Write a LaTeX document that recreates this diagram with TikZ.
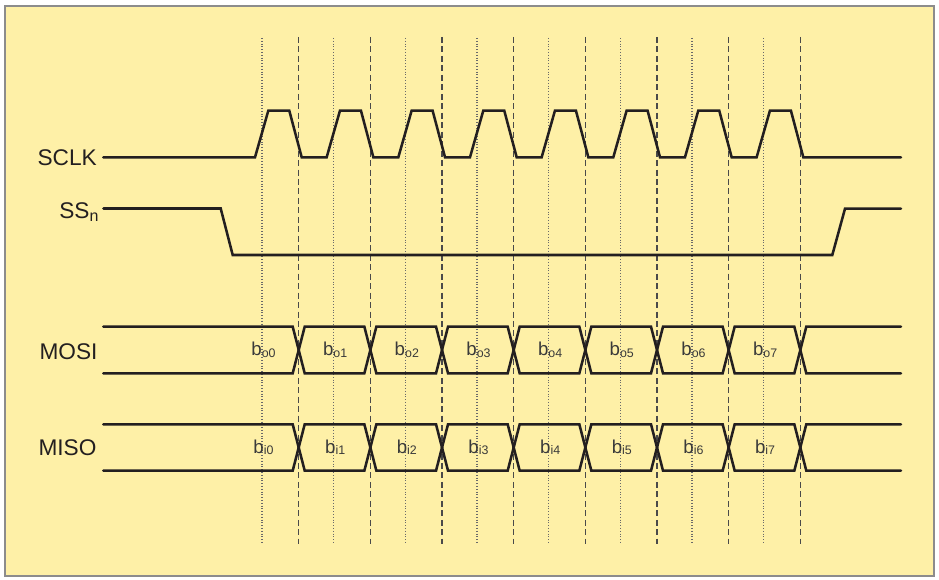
\documentclass[tikz,border=0pt]{standalone}
\usepackage{fontspec}
\setmainfont{Liberation Sans}
\definecolor{bg}{HTML}{FEF0A7}
\definecolor{bordc}{HTML}{8C8C8C}
\definecolor{sigc}{HTML}{231F20}
\definecolor{dashc}{HTML}{4A4A4A}
\definecolor{dotc}{HTML}{6A6A6A}
\definecolor{labc}{HTML}{3A3A3A}
\newcommand\bitlab[2]{{\fontsize{14}{16}\selectfont b}\raisebox{-1pt}{\fontsize{9.3}{10}\selectfont #1#2}}
\newcommand\mybus[4]{% #1 top, #2 bottom, #3 mid, #4 name prefix
  \draw[sig] (103.3,#1) -- (292.7,#1) -- (298.7,#3);
  \draw[sig] (103.3,#2) -- (292.7,#2) -- (298.7,#3);
  \foreach \k in {1,...,7}{
    \pgfmathsetmacro\xa{298.7+71.66*(\k-1)}
    \pgfmathsetmacro\xb{298.7+71.66*\k}
    \draw[sig] (\xa,#3) -- ({\xa+6},#1) -- ({\xb-6},#1) -- (\xb,#3);
    \draw[sig] (\xa,#3) -- ({\xa+6},#2) -- ({\xb-6},#2) -- (\xb,#3);
  }
  \draw[sig] (800.3,#3) -- (806.3,#1) -- (901,#1);
  \draw[sig] (800.3,#3) -- (806.3,#2) -- (901,#2);
}
\begin{document}
\begin{tikzpicture}[x=0.75pt,y=-0.75pt,
  sig/.style={line width=1.9pt, draw=sigc, line join=miter, line cap=round},
  dashline/.style={line width=1.1pt, draw=dashc, dash pattern=on 4.5pt off 2.6pt},
  dotline/.style={line width=1pt, draw=dotc, dash pattern=on 0.8pt off 1.3pt},
  siglab/.style={inner sep=0pt, anchor=base east, text=sigc, font=\fontsize{17}{20}\selectfont},
  bitnode/.style={inner sep=0pt, anchor=base, text=labc}]
\useasboundingbox (0,0) rectangle (939,580);
\fill[white] (0,0) rectangle (939,580);
\draw[fill=bg, draw=bordc, line width=1.1pt] (5,6) rectangle (934,576);
% grid lines
\foreach \k in {0,...,7}{
  \pgfmathsetmacro\xd{262+71.66*\k}
  \pgfmathsetmacro\xe{298.7+71.66*\k}
  \draw[dotline] (\xd,38) -- (\xd,544);
  \draw[dashline] (\xe,37) -- (\xe,544);
}
% SCLK
\draw[sig] (103.3,157.3) \foreach \k in {0,...,7}{
   -- ({255+71.66*\k},157.3) -- ({268.3+71.66*\k},110.7)
   -- ({289.3+71.66*\k},110.7) -- ({301.7+71.66*\k},157.3) } -- (901,157.3);
% SSn
\draw[sig] (103.3,208.5) -- (220.7,208.5) -- (232.7,255) -- (832.3,255) -- (845,208.7) -- (901,208.7);
% buses
\mybus{326.7}{373.3}{350}{mo}
\mybus{424.3}{470.7}{447.5}{mi}
% signal labels
\node[siglab] (sclk) at (97,166) {SCLK};
\node[siglab] (ssn) at (98.7,218.3) {SS\raisebox{-2.5pt}{\fontsize{12}{14}\selectfont n}};
\node[siglab] (mosi) at (97.7,360) {MOSI};
\node[siglab] (miso) at (96.7,456) {MISO};
% bit labels
\foreach \k in {0,...,7}{
  \node[bitnode] (bo\k) at ({263.5+71.66*\k},356) {\bitlab{o}{\k}};
  \node[bitnode] (bi\k) at ({263.5+71.66*\k},453.5) {\bitlab{i}{\k}};
}
\end{tikzpicture}
\end{document}
